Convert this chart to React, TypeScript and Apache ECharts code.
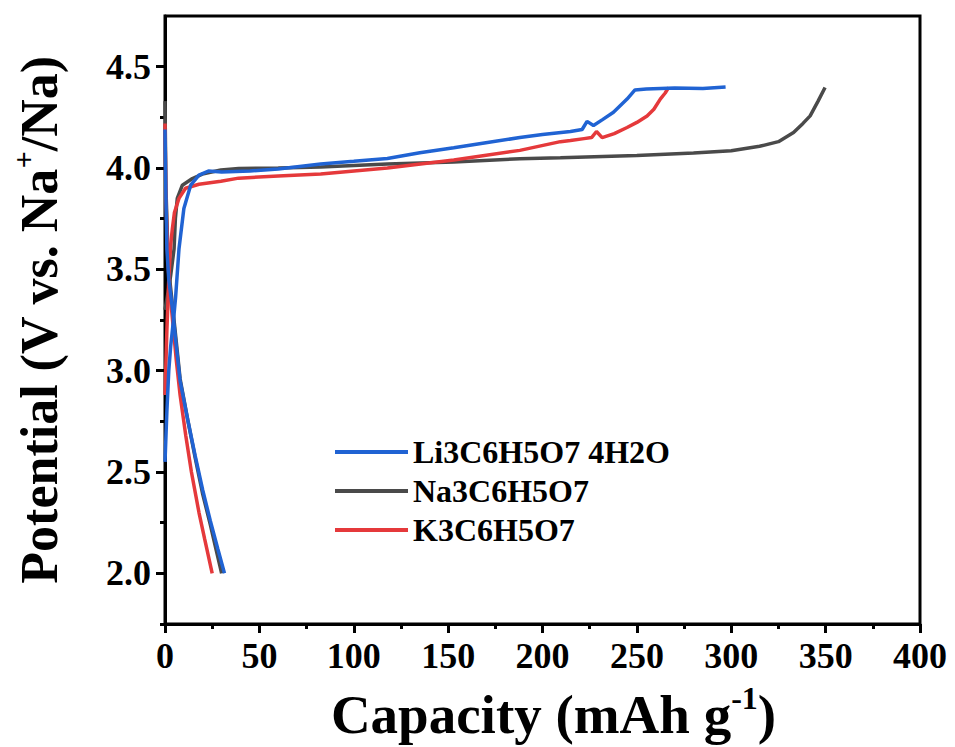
import React, { useEffect, useRef } from "react";
import * as echarts from "echarts";

// ---- data (capacity mAh/g, potential V) ----
const seriesNames = ["Li3C6H5O7 4H2O", "Na3C6H5O7", "K3C6H5O7"];

const liCharge: [number, number][] = [
  [0, 2.55], [1, 2.8], [2, 3.0], [3, 3.12], [4.5, 3.25], [5.6, 3.36], [7.4, 3.6], [10, 3.8],
  [13.6, 3.915], [18, 3.965], [23, 3.985], [30, 3.98], [45, 3.985], [60, 3.995], [82.5, 4.02],
  [100, 4.033], [117.8, 4.047], [135, 4.075], [153, 4.1], [170, 4.125], [188, 4.15], [200, 4.165],
  [214.8, 4.18], [221, 4.19], [223.6, 4.23], [227, 4.21], [232, 4.24], [237.6, 4.275],
  [244.8, 4.34], [249, 4.385], [255, 4.39], [270, 4.395], [285, 4.392], [297, 4.4],
];
const liDischarge: [number, number][] = [
  [0, 4.19], [0.5, 3.85], [1, 3.6], [2, 3.45], [4, 3.3], [6, 3.12], [8, 2.95], [12, 2.76],
  [16, 2.58], [20, 2.41], [24, 2.26], [28, 2.12], [31.5, 2.0],
];
const naCharge: [number, number][] = [
  [0, 3.3], [1.5, 3.38], [3, 3.47], [4.8, 3.6], [5.5, 3.75], [6.5, 3.85], [9.2, 3.915],
  [14.5, 3.948], [19.8, 3.97], [29.6, 3.99], [39, 3.997], [60, 4.0], [82.5, 4.005],
  [117.8, 4.02], [153, 4.03], [188, 4.046], [209.5, 4.05], [250, 4.062], [280, 4.074],
  [300, 4.085], [315, 4.107], [325, 4.13], [333, 4.175], [338, 4.22], [341.8, 4.257],
  [346, 4.33], [349.7, 4.397],
];
const naDischarge: [number, number][] = [
  [0, 4.33], [0.5, 3.9], [1.5, 3.6], [2.5, 3.45], [4, 3.32], [6, 3.14], [8, 2.96], [12, 2.76],
  [16, 2.57], [20, 2.39], [24, 2.24], [27, 2.12], [30, 2.0],
];
const kCharge: [number, number][] = [
  [0, 2.88], [1, 3.2], [2, 3.45], [3, 3.62], [3.9, 3.7], [5, 3.78], [7.4, 3.85], [10.9, 3.9],
  [18, 3.92], [29.6, 3.935], [39, 3.95], [60, 3.96], [82.5, 3.97], [117.8, 4.0], [153, 4.04],
  [188, 4.087], [209.5, 4.13], [214.8, 4.136], [222, 4.145], [226, 4.15], [228.6, 4.18],
  [231.6, 4.15], [238, 4.17], [244.8, 4.2], [250, 4.225], [255.4, 4.257], [259, 4.29],
  [262.4, 4.34], [265, 4.37], [266.8, 4.397],
];
const kDischarge: [number, number][] = [
  [0, 4.22], [0.5, 3.85], [1.5, 3.55], [2.5, 3.4], [4, 3.25], [6, 3.05], [8, 2.88], [11, 2.68],
  [14, 2.5], [18, 2.3], [21, 2.17], [25, 2.0],
];

const yMajorTicks = [2.0, 2.5, 3.0, 3.5, 4.0, 4.5];
const yMinorTicks = [1.75, 2.25, 2.75, 3.25, 3.75, 4.25];

const colors = { li: "#2063d3", na: "#4a4a4a", k: "#e5393b" };
const FONT = "'Times New Roman', 'Liberation Serif', serif";

export default function App() {
  const ref = useRef<HTMLDivElement>(null);
  useEffect(() => {
    if (!ref.current) return;
    const chart = echarts.init(ref.current, null, { renderer: "svg" });
    const line = (name: string, data: [number, number][], color: string) => ({
      type: "line",
      name,
      data,
      showSymbol: false,
      symbol: "none",
      lineStyle: { width: 3.5, color },
      itemStyle: { color },
    });
    const richTitle = (size: number) => ({
      a: { fontFamily: FONT, fontWeight: "bold", fontSize: size, lineHeight: size + 5, color: "#000", verticalAlign: "bottom" },
      s: { fontFamily: FONT, fontWeight: "bold", fontSize: Math.round(size * 0.58), lineHeight: size + 5, color: "#000", verticalAlign: "top", padding: [0, 0, Math.round(size * 0.44), 0] },
    });
    chart.setOption({
      animation: false,
      backgroundColor: "#fff",
      grid: {
        left: 164, top: 16, width: 756, height: 610,
        show: true, borderColor: "#000", borderWidth: 3,
      },
      legend: {
        orient: "vertical",
        left: 335,
        top: 436,
        padding: 0,
        itemWidth: 73,
        itemHeight: 4,
        itemGap: 7,
        icon: "rect",
        data: seriesNames,
        textStyle: { fontFamily: FONT, fontWeight: "bold", fontSize: 32, lineHeight: 32, color: "#000" },
      },
      xAxis: {
        type: "value",
        min: 0,
        max: 400,
        interval: 50,
        name: "{a|Capacity (mAh g}{s|-1}{a|)}",
        nameLocation: "middle",
        nameGap: 58,
        nameTextStyle: { rich: richTitle(55), padding: [0, 0, 0, 22] },
        axisLine: { show: true, onZero: false, lineStyle: { color: "#000", width: 3 } },
        axisTick: { show: true, inside: false, length: 9, lineStyle: { color: "#000", width: 3 } },
        minorTick: { show: true, splitNumber: 2, length: 5, lineStyle: { color: "#000", width: 3 } },
        axisLabel: { fontFamily: FONT, fontWeight: "bold", fontSize: 36, color: "#000", margin: 14 },
        splitLine: { show: false },
      },
      yAxis: [
        {
          type: "value",
          min: 1.75,
          max: 4.75,
          name: "{a|Potential (V vs. Na}{s|+}{a|/Na)}",
          nameLocation: "middle",
          nameRotate: 90,
          nameGap: 100,
          nameTextStyle: { rich: richTitle(52) },
          axisLine: { show: true, onZero: false, lineStyle: { color: "#000", width: 3 } },
          axisTick: { show: true, inside: false, length: 9, customValues: yMajorTicks, lineStyle: { color: "#000", width: 3 } },
          axisLabel: {
            fontFamily: FONT, fontWeight: "bold", fontSize: 36, color: "#000", margin: 14,
            customValues: yMajorTicks,
            formatter: (v: number) => v.toFixed(1),
          },
          splitLine: { show: false },
        },
        {
          type: "value",
          min: 1.75,
          max: 4.75,
          position: "left",
          axisLine: { show: false },
          axisTick: { show: true, inside: false, length: 5, customValues: yMinorTicks, lineStyle: { color: "#000", width: 3 } },
          axisLabel: { show: false },
          splitLine: { show: false },
        },
      ],
      series: [
        line(seriesNames[1], naCharge, colors.na),
        line(seriesNames[1], naDischarge, colors.na),
        line(seriesNames[2], kCharge, colors.k),
        line(seriesNames[2], kDischarge, colors.k),
        line(seriesNames[0], liCharge, colors.li),
        line(seriesNames[0], liDischarge, colors.li),
      ],
    });
    return () => chart.dispose();
  }, []);
  return <div ref={ref} style={{ position: "fixed", left: 0, top: 0, width: 955, height: 747 }} />;
}
